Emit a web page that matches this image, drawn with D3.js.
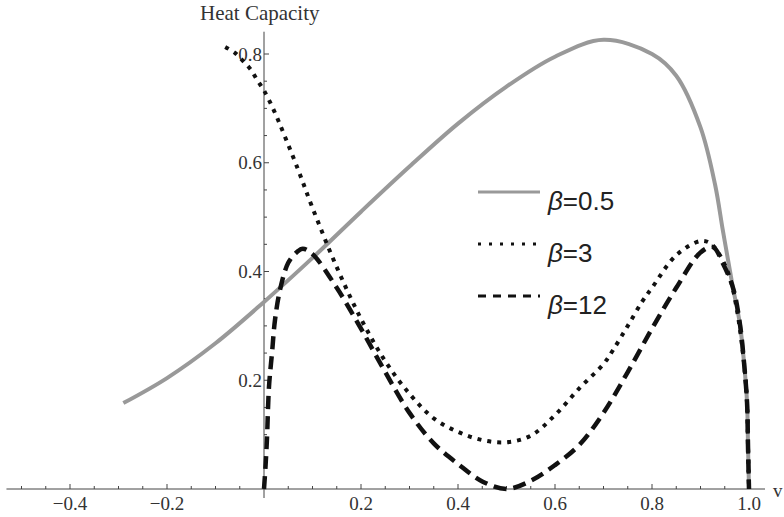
<!DOCTYPE html>
<html>
<head>
<meta charset="utf-8">
<script src="https://cdn.jsdelivr.net/npm/d3@7/dist/d3.min.js"></script>
<style>
  body { margin: 0; background: #fff; }
  .tick-label { font-family: 'Liberation Serif', 'Times New Roman', serif; font-size: 19px; fill: #333; }
  .legend-label { font-family: 'Liberation Sans', Arial, sans-serif; font-size: 26px; fill: #222; }
</style>
</head>
<body>
<svg id="chart" width="784" height="517"></svg>
<script>
// heat capacity vs v
const gray05 = [[-0.29, 0.158], [-0.2, 0.204], [-0.1, 0.268], [0, 0.344], [0.1, 0.425], [0.2, 0.51],
  [0.3, 0.593], [0.4, 0.672], [0.5, 0.74], [0.6, 0.795], [0.7, 0.826], [0.8, 0.80],
  [0.85, 0.76], [0.9, 0.665], [0.93, 0.56], [0.946, 0.476], [0.96, 0.405], [0.967, 0.37], [0.981, 0.305],
  [0.99, 0.23], [0.996, 0.158], [0.998, 0.077], [1.0, 0]];

const dotted3 = [[-0.08, 0.813], [-0.06, 0.802], [-0.043, 0.787], [-0.027, 0.771], [-0.014, 0.752], [0, 0.733],
  [0.021, 0.695], [0.04, 0.655], [0.07, 0.588], [0.1, 0.517], [0.15, 0.408], [0.2, 0.313], [0.25, 0.235],
  [0.3, 0.175], [0.35, 0.13], [0.4, 0.105], [0.45, 0.09], [0.5, 0.086], [0.55, 0.098], [0.6, 0.136],
  [0.65, 0.185], [0.7, 0.23], [0.72, 0.256], [0.75, 0.30], [0.78, 0.345], [0.8, 0.37], [0.85, 0.43],
  [0.9, 0.456], [0.92, 0.452], [0.94, 0.43], [0.96, 0.39], [0.975, 0.33], [0.99, 0.23], [0.996, 0.158],
  [0.998, 0.077], [1.0, 0]];

const dashed12 = [[0, 0], [0.003, 0.04], [0.006, 0.09], [0.0103, 0.188], [0.0165, 0.25], [0.0227, 0.311],
  [0.033, 0.366], [0.05, 0.416], [0.068, 0.436], [0.08, 0.442], [0.1, 0.432], [0.15, 0.37], [0.2, 0.295],
  [0.25, 0.215], [0.3, 0.14], [0.35, 0.084], [0.4, 0.046], [0.45, 0.014], [0.5, 0], [0.55, 0.015],
  [0.6, 0.044], [0.65, 0.081], [0.7, 0.14], [0.75, 0.215], [0.8, 0.295], [0.85, 0.37], [0.9, 0.435],
  [0.926, 0.445], [0.946, 0.415], [0.967, 0.37], [0.981, 0.305], [0.99, 0.23], [0.996, 0.158],
  [0.998, 0.077], [1.0, 0]];

const xTicks = [-0.4, -0.2, 0.2, 0.4, 0.6, 0.8, 1.0];
const yTicks = [0.2, 0.4, 0.6, 0.8];
const legendNames = ['0.5', '3', '12'];

const svg = d3.select('#chart');
const x = d3.scaleLinear().domain([0, 1]).range([264, 749]);
const y = d3.scaleLinear().domain([0, 0.8]).range([489, 54]);
const axisColor = '#444';

// x axis
svg.append('line')
  .attr('x1', x(-0.531)).attr('x2', x(1.033))
  .attr('y1', y(0)).attr('y2', y(0))
  .attr('stroke', axisColor).attr('stroke-width', 1);

const xMinor = d3.range(-10, 21).map(i => i * 0.05).filter(v => Math.abs(v) > 1e-9);
svg.append('g').selectAll('line')
  .data(xMinor)
  .enter().append('line')
  .attr('x1', d => x(d)).attr('x2', d => x(d))
  .attr('y1', y(0))
  .attr('y2', d => (xTicks.some(t => Math.abs(t - d) < 1e-9) ? y(0) - 5 : y(0) - 3))
  .attr('stroke', axisColor).attr('stroke-width', 1);

svg.append('g').selectAll('text')
  .data(xTicks)
  .enter().append('text')
  .attr('class', 'tick-label')
  .attr('x', d => x(d))
  .attr('y', 510)
  .attr('text-anchor', 'middle')
  .text(d => (d < 0 ? '\u2212' + Math.abs(d).toFixed(1) : d.toFixed(1)));

svg.append('text')
  .attr('class', 'tick-label')
  .attr('x', 773).attr('y', 497)
  .text('v');

// y axis
svg.append('line')
  .attr('x1', x(0)).attr('x2', x(0))
  .attr('y1', y(0) + 9).attr('y2', y(0.841))
  .attr('stroke', axisColor).attr('stroke-width', 1);

const yMinor = d3.range(1, 17).map(i => i * 0.05);
svg.append('g').selectAll('line')
  .data(yMinor)
  .enter().append('line')
  .attr('x1', x(0))
  .attr('x2', d => (yTicks.some(t => Math.abs(t - d) < 1e-9) ? x(0) + 5 : x(0) + 3))
  .attr('y1', d => y(d)).attr('y2', d => y(d))
  .attr('stroke', axisColor).attr('stroke-width', 1);

svg.append('g').selectAll('text')
  .data(yTicks)
  .enter().append('text')
  .attr('class', 'tick-label')
  .attr('x', x(0) - 2)
  .attr('y', d => y(d) + 6.5)
  .attr('text-anchor', 'end')
  .text(d => d.toFixed(1));

svg.append('text')
  .attr('class', 'tick-label')
  .attr('x', 200).attr('y', 20)
  .style('font-size', '21px')
  .text('Heat Capacity');

// curves
const line = d3.line()
  .x(d => x(d[0]))
  .y(d => y(d[1]))
  .curve(d3.curveCatmullRom.alpha(0.5));

const styles = [
  { data: gray05, stroke: '#999', width: 4, dash: null },
  { data: dotted3, stroke: '#111', width: 4, dash: '4,6' },
  { data: dashed12, stroke: '#111', width: 4.5, dash: '13,7' }
];

styles.forEach(s => {
  svg.append('path')
    .datum(s.data)
    .attr('fill', 'none')
    .attr('stroke', s.stroke)
    .attr('stroke-width', s.width)
    .attr('stroke-dasharray', s.dash)
    .attr('d', line);
});

// legend
const legendY = [192, 244, 296];
const legendDash = [null, '3,8', '8,7'];
const legendStroke = ['#999', '#111', '#111'];

const lg = svg.append('g');
legendNames.forEach((name, i) => {
  lg.append('line')
    .attr('x1', 478).attr('x2', 540)
    .attr('y1', legendY[i]).attr('y2', legendY[i])
    .attr('stroke', legendStroke[i])
    .attr('stroke-width', 3)
    .attr('stroke-dasharray', legendDash[i]);
  const t = lg.append('text')
    .attr('class', 'legend-label')
    .attr('x', 548).attr('y', legendY[i] + 18);
  t.append('tspan').style('font-style', 'italic').text('\u03B2');
  t.append('tspan').text('=' + name);
});
</script>
</body>
</html>
